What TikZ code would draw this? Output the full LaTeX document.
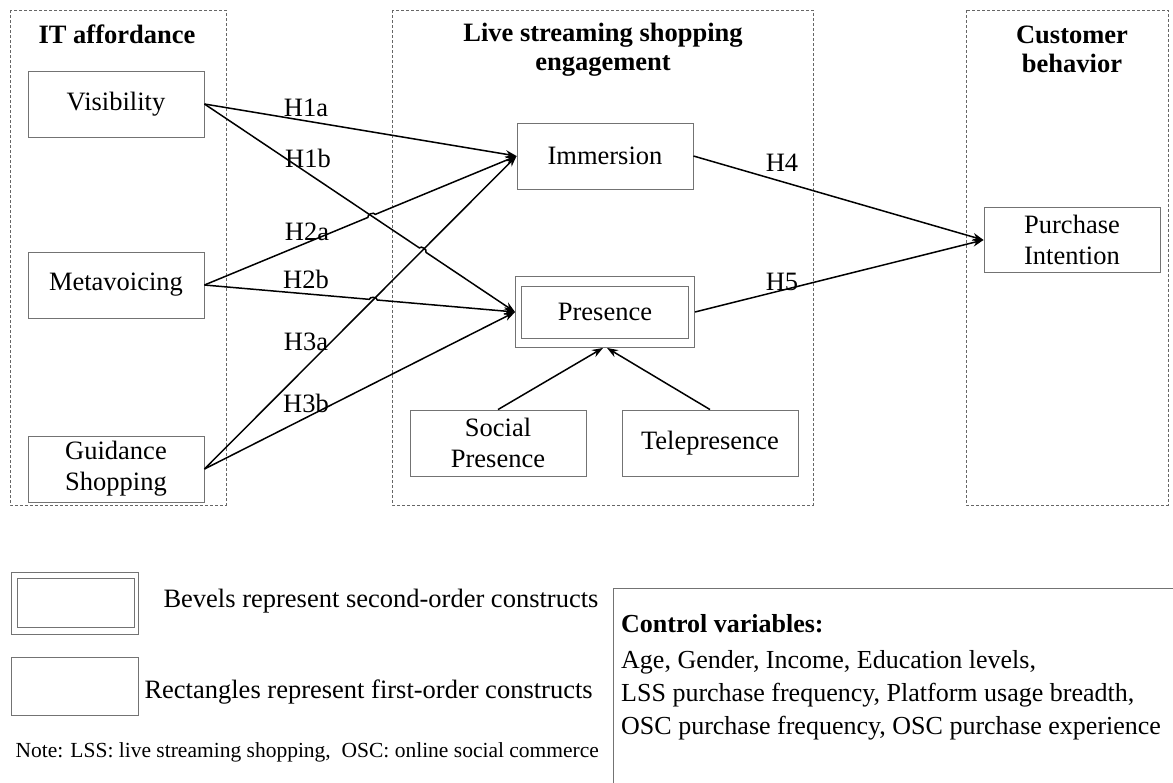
\documentclass[tikz,border=0pt]{standalone}
\usepackage{fontspec}
\setmainfont{Liberation Serif}
\usetikzlibrary{arrows.meta,positioning,calc,intersections}

\begin{document}
\begin{tikzpicture}[x=1pt, y=-1pt, >={Stealth[length=11pt,width=8pt]},
  font=\fontsize{26.5}{31}\selectfont,
  construct/.style={draw=black!55, line width=0.9pt, minimum width=176pt, minimum height=66pt, align=center, inner sep=2pt},
  group/.style={draw=black!60, dash pattern=on 3pt off 2pt, line width=0.7pt},
  grouptitle/.style={font=\fontsize{26.5}{29}\selectfont\bfseries, align=center},
  hypo/.style={->, line width=1.5pt},
  hlabel/.style={inner sep=1pt}]
  \path[use as bounding box, clip] (0,0) rectangle (1173,782);
  \draw[group] (10,10) rectangle (226,505);
  \draw[group] (392,10) rectangle (813,505);
  \draw[group] (966,10) rectangle (1168,505);
  \node[grouptitle] (itaff) at (117,34) {IT affordance};
  \node[grouptitle] (lss) at (603,50) {Live streaming shopping\\engagement};
  \node[grouptitle] (cust) at (1072,49) {Customer\\behavior};

  \node[construct] (vis) at (116,104) {Visibility};
  \node[construct] (meta) at (116,285) {Metavoicing};
  \node[construct] (guid) at (116,469) {Guidance\\Shopping};
  \node[construct] (imm) at (605,156) {Immersion};
  \node[construct, minimum width=179pt, minimum height=71pt] (pres) at (605,312) {Presence};
  \draw[draw=black!55, line width=0.9pt] ([shift={(6,10)}]pres.north west) rectangle ([shift={(-7,-10)}]pres.south east);
  \node[construct] (soc) at (498,443) {Social\\Presence};
  \node[construct] (tele) at (710,443) {Telepresence};
  \node[construct, minimum height=65pt] (pint) at (1072,240) {Purchase\\Intention};

  \path[name path=p1b] (vis.east) -- (pres.west);
  \path[name path=p2a] (meta.east) -- (imm.west);
  \path[name path=p2b] (meta.east) -- (pres.west);
  \path[name path=p3a] (guid.east) -- (imm.west);
  \path[name intersections={of=p2a and p1b, by=x1}];
  \path[name intersections={of=p1b and p3a, by=x2}];
  \path[name intersections={of=p2b and p3a, by=x3}];

  \draw[hypo] (vis.east) -- (imm.west);
  \draw[hypo] (guid.east) -- (imm.west);
  \draw[hypo] (vis.east) -- ($(x2)!4pt!(vis.east)$) to[bend left=90] ($(x2)!4pt!(pres.west)$) -- (pres.west);
  \draw[hypo] (meta.east) -- ($(x1)!4pt!(meta.east)$) to[bend left=90] ($(x1)!4pt!(imm.west)$) -- (imm.west);
  \draw[hypo] (meta.east) -- ($(x3)!4pt!(meta.east)$) to[bend left=90] ($(x3)!4pt!(pres.west)$) -- (pres.west);
  \draw[hypo] (guid.east) -- (pres.west);
  \draw[hypo] (imm.east) -- (pint.west);
  \draw[hypo] (pres.east) -- (pint.west);
  \draw[hypo] (soc.north) -- ([xshift=-2pt]pres.south);
  \draw[hypo] (tele.north) -- ([xshift=2pt]pres.south);

  \node[hlabel] (h1a) at (306,108) {H1a};
  \node[hlabel] (h1b) at (308,158) {H1b};
  \node[hlabel] (h2a) at (307,232) {H2a};
  \node[hlabel] (h2b) at (306,279) {H2b};
  \node[hlabel] (h3a) at (306,342) {H3a};
  \node[hlabel] (h3b) at (306,403) {H3b};
  \node[hlabel] (h4) at (782,163) {H4};
  \node[hlabel] (h5) at (782,282) {H5};

  \node[construct, minimum width=127pt, minimum height=62pt] (bevel) at (75,603) {};
  \draw[draw=black!55, line width=0.9pt] ([shift={(6,7)}]bevel.north west) rectangle ([shift={(-5,-7)}]bevel.south east);
  \node[anchor=west] (beveltxt) at (160,601) {Bevels represent second-order constructs};
  \node[construct, minimum width=127pt, minimum height=58pt] (rect) at (75,686) {};
  \node[anchor=west] (recttxt) at (141,692) {Rectangles represent first-order constructs};
  \node[anchor=west, font=\fontsize{21.5}{25}\selectfont] (note) at (12,752) {Note: LSS: live streaming shopping,\ \ OSC: online social commerce};

  \node[draw=black!55, line width=0.9pt, anchor=north west, minimum width=620pt, minimum height=240pt] (ctrl) at (613,588) {};
  \node[anchor=north west, align=left, inner sep=0pt, font=\fontsize{26}{33}\selectfont] (ctrltxt) at (621,614) {\textbf{Control variables:}\\[3pt]Age, Gender, Income, Education levels,\\LSS purchase frequency, Platform usage breadth,\\OSC purchase frequency, OSC purchase experience};
\end{tikzpicture}
\end{document}
